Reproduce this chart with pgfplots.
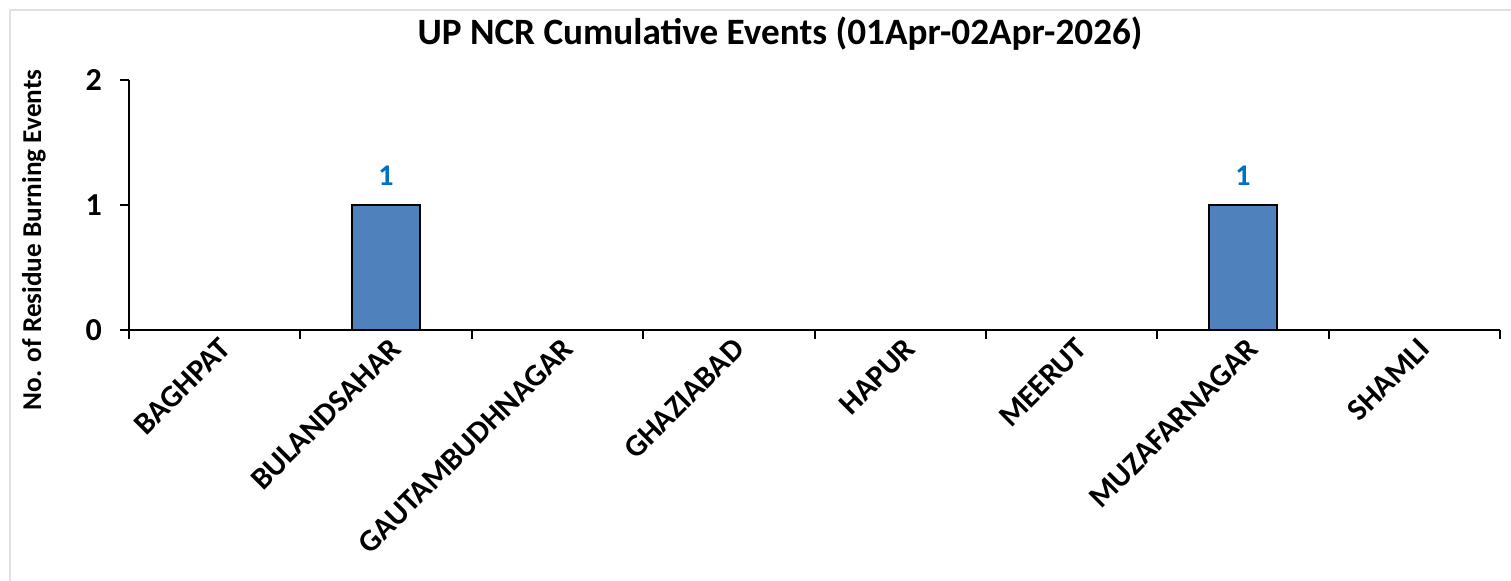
\documentclass[border=0pt]{standalone}
\usepackage{pgfplots}
\pgfplotsset{compat=1.18}
\usepackage{fontspec}
\setmainfont{Carlito}
\definecolor{barblue}{HTML}{4F81BD}
\definecolor{lblblue}{HTML}{0070C0}
\begin{document}
\begin{tikzpicture}
\useasboundingbox (0,0) rectangle (755.5pt,290.5pt);
\draw[black!12, line width=1pt] (5pt,-5pt) -- (5pt,285.5pt) -- (760pt,285.5pt);
\begin{axis}[
  at={(64.5pt,125.5pt)}, anchor=south west,
  width=685.5pt, height=125pt, scale only axis,
  xmin=-0.5, xmax=7.5, ymin=0, ymax=2,
  axis lines=left, axis line style={-, line width=1pt},
  ytick={0,1,2}, tick align=outside, major tick length=4.5pt,
  minor tick length=4.5pt,
  xtick={0,...,7},
  xticklabels={BAGHPAT,BULANDSAHAR,GAUTAMBUDHNAGAR,GHAZIABAD,HAPUR,MEERUT,MUZAFARNAGAR,SHAMLI},
  minor xtick={-0.5,0.5,...,7.5},
  major x tick style={draw=none},
  minor x tick style={black, line width=1pt},
  y tick style={black, line width=1pt},
  /pgf/number format/assume math mode=true,
  yticklabel style={font=\bfseries\fontsize{16}{18}\selectfont, xshift=-5.5pt},
  xticklabel style={rotate=45, anchor=north east, inner sep=0pt, xshift=2pt, font=\bfseries\fontsize{15.5}{17}\selectfont},
  ybar, bar width=34pt,
  nodes near coords={\pgfmathfloatifflags{\pgfplotspointmeta}{0}{}{\pgfmathprintnumber{\pgfplotspointmeta}}},
  nodes near coords style={font=\bfseries\fontsize{15}{17}\selectfont, text=lblblue, anchor=south, inner sep=0pt, yshift=9pt},
]
\addplot[fill=barblue, draw=black, line width=1pt] coordinates {(0,0) (1,1) (2,0) (3,0) (4,0) (5,0) (6,1) (7,0)};
\end{axis}
\node[anchor=base, font=\bfseries\fontsize{18.6}{21}\selectfont] at (390pt,268pt) {UP NCR Cumulative Events (01Apr-02Apr-2026)};
\node[rotate=90, font=\bfseries\fontsize{13.6}{15}\selectfont] at (17pt,170.5pt) {No. of Residue Burning Events};
\end{tikzpicture}
\end{document}
